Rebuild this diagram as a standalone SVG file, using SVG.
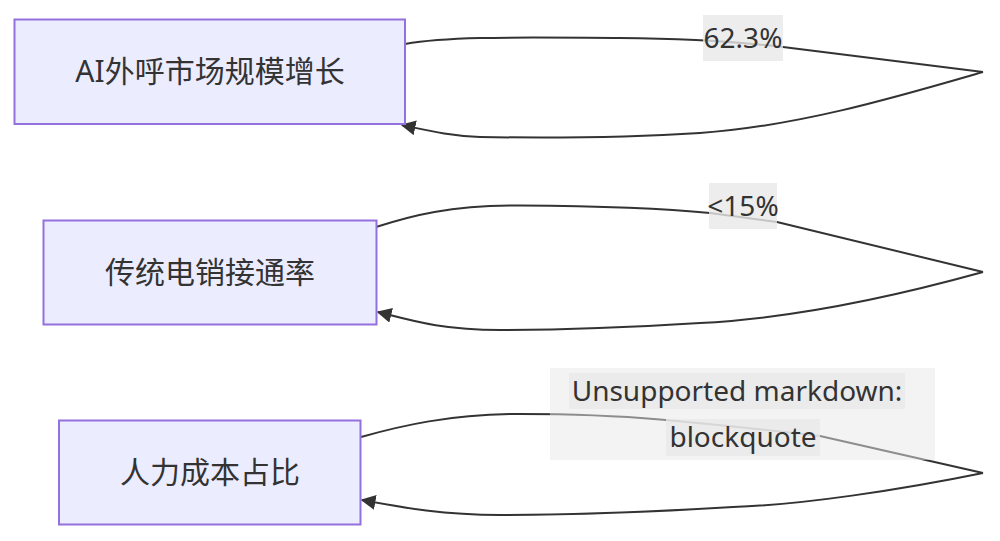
<svg xmlns="http://www.w3.org/2000/svg" width="1000" height="541" viewBox="0 0 1000 541">
<style>
.node rect{fill:#ECECFF;stroke:#9370DB;stroke-width:2}
.node text{font-family:"Noto Sans","Noto Sans CJK SC",sans-serif;font-size:30px;fill:#333;text-anchor:middle}
.edge{fill:none;stroke:#333;stroke-width:2}
.lbl{font-family:"Noto Sans",sans-serif;font-size:28px;fill:#333;text-anchor:middle}
.lblbg{fill:#e8e8e8;fill-opacity:0.8}
</style>
<defs>
<marker id="arrow" viewBox="0 0 10 10" refX="9" refY="5" markerUnits="userSpaceOnUse" markerWidth="15" markerHeight="15" orient="auto">
<path d="M0,0 L10,5 L0,10 z" fill="#333"/>
</marker>
</defs>
<rect width="1000" height="541" fill="#fff"/>
<g id="connectors">
<path class="edge" d="M405,44 C450,36 520,37.5 620,38 C690,38.5 740,42 783,47 L983,72"/>
<path class="edge" d="M983,72 C900,96 800,126 700,133 C620,138 540,138 480,137 C450,136 430,131 402,125" marker-end="url(#arrow)"/>
<path class="edge" d="M376,227 C410,216 450,205 520,205.5 C600,206 660,208 710,213 L777,222 L983,272"/>
<path class="edge" d="M983,272 C900,295 800,318 700,323 C620,328 560,330 500,330 C440,330 410,320 378,312" marker-end="url(#arrow)"/>
<path class="edge" d="M361,437 C400,426 450,414 520,414 C580,414 620,416 660,419.5 C720,425 770,430 820,436 L983,473"/>
<path class="edge" d="M983,473 C900,490 800,505 733,507 C650,512 570,515 500,515 C440,515 400,507 362,500" marker-end="url(#arrow)"/>
</g>
<g id="label-1">
<rect class="lblbg" x="703" y="15" width="80" height="46"/>
<text class="lbl" x="743" y="48">62.3%</text>
</g>
<g id="label-2">
<rect class="lblbg" x="709" y="183" width="68" height="46"/>
<text class="lbl" x="743" y="216" font-size="27">&lt;15%</text>
</g>
<g id="label-3">
<rect x="550" y="368" width="385" height="92" fill="#e8e8e8" fill-opacity="0.5"/>
<rect class="lblbg" x="569" y="373" width="336" height="36"/>
<rect class="lblbg" x="666" y="419" width="154" height="37"/>
<text class="lbl" x="737" y="401">Unsupported markdown:</text>
<text class="lbl" x="743" y="447">blockquote</text>
</g>
<g id="node-1" class="node">
<rect x="14.5" y="19.5" width="390.5" height="104.5"/>
<text x="210" y="82">AI外呼市场规模增长</text>
</g>
<g id="node-2" class="node">
<rect x="43.5" y="220.5" width="333" height="104"/>
<text x="210" y="283">传统电销接通率</text>
</g>
<g id="node-3" class="node">
<rect x="59" y="420.5" width="301.5" height="104"/>
<text x="210" y="483">人力成本占比</text>
</g>
</svg>
